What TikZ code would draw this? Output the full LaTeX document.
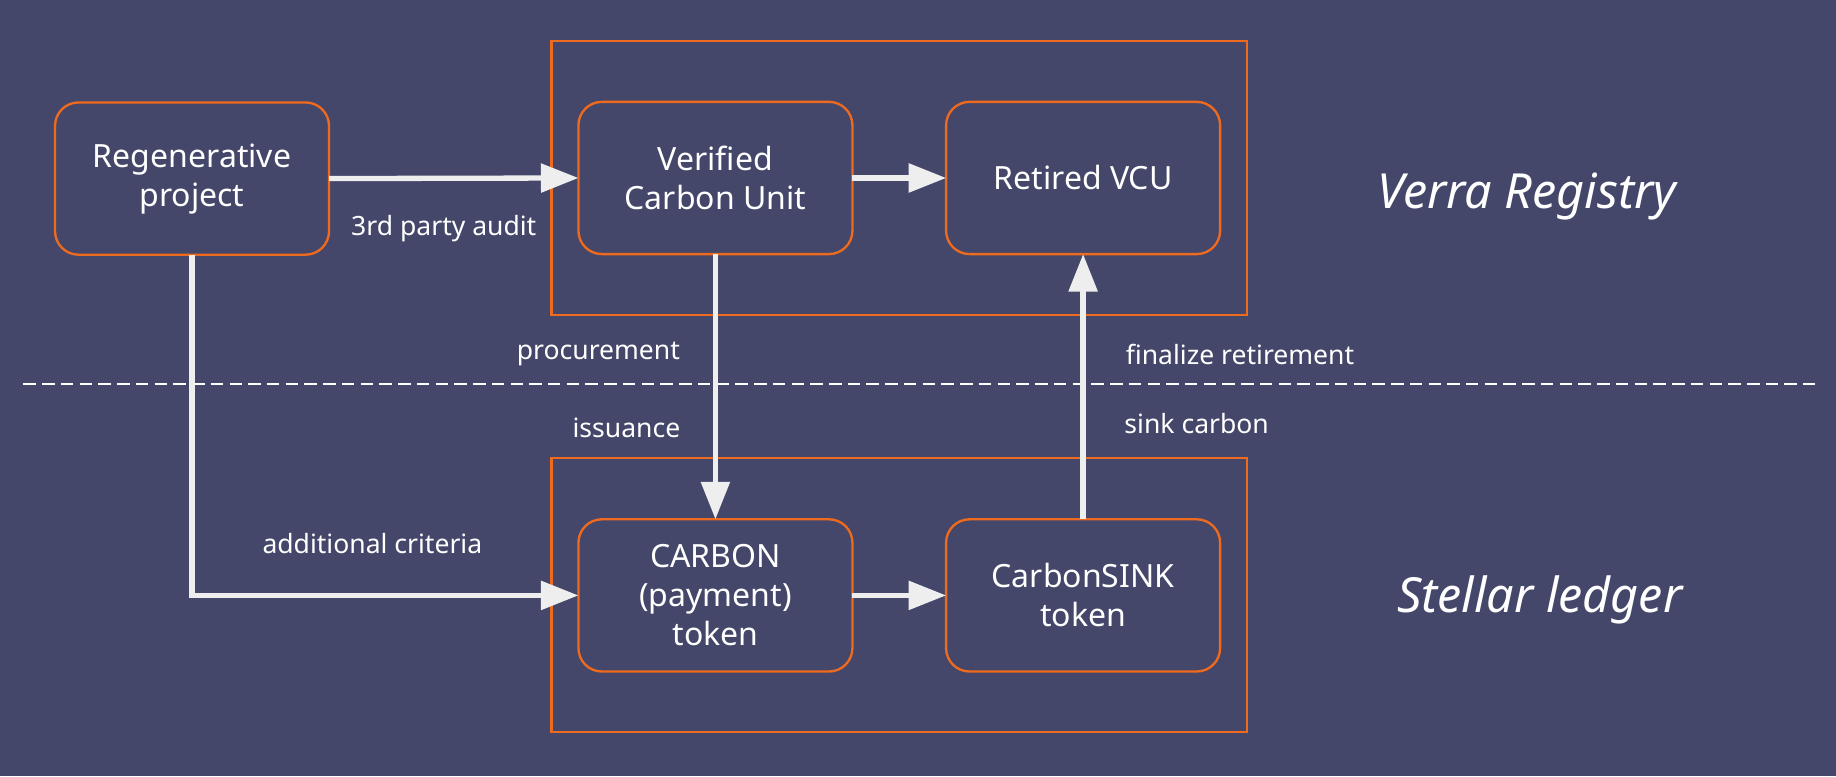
\documentclass[tikz,border=0pt]{standalone}
\usepackage{fontspec}
\setmainfont{Noto Sans}
\usetikzlibrary{arrows.meta}
\definecolor{bg}{HTML}{44476A}
\definecolor{org}{HTML}{EE6A1E}
\definecolor{arr}{HTML}{EEEEEE}
\tikzset{
  box/.style={draw=org, line width=1.5pt, rounded corners=15pt, minimum width=175.5pt, minimum height=97.5pt, text=white, font=\fontsize{20.5}{25}\selectfont, align=center, inner sep=0pt, outer sep=0pt},
  region/.style={draw=org, line width=1.5pt, minimum width=445.5pt, minimum height=175.5pt, inner sep=0pt, outer sep=0pt},
  conn/.style={draw=arr, line width=3.4pt, -{Triangle[length=24pt,width=18pt]}},
  lbl/.style={text=white, font=\fontsize{17}{20}\selectfont, inner sep=0pt},
  regtitle/.style={text=white, font=\fontsize{31}{36}\selectfont\itshape, inner sep=0pt},
  divider/.style={draw=white, line width=1.1pt, dash pattern=on 8pt off 4pt}
}
\begin{document}
\begin{tikzpicture}[x=0.75pt,y=-0.75pt]
\fill[bg] (0,0) rectangle (1568,663);
\useasboundingbox (0,0) rectangle (1568,663);
% regions
\node[region] (vreg) at (768,152) {};
\node[region] (sreg) at (768,508) {};
% boxes
\node[box] (regen) at (164,152.5) {Regenerative\\project};
\node[box] (vcu) at (611,152) {Verified\\Carbon Unit};
\node[box] (retired) at (925,152) {Retired VCU};
\node[box] (carbon) at (611,508.5) {CARBON\\(payment)\\token};
\node[box] (sink) at (925,508.5) {CarbonSINK\\token};
% divider
\coordinate (dl) at (20,328);
\coordinate (dr) at (1550,328);
\draw[divider] (dl) -- (dr);
% connectors
\draw[conn] (regen.east) -- (vcu.west);
\draw[conn] (vcu.east) -- (retired.west);
\draw[conn] (vcu.south) -- (carbon.north);
\draw[conn] (regen.south) |- (carbon.west);
\draw[conn] (carbon.east) -- (sink.west);
\draw[conn] (sink.north) -- (retired.south);
% labels
\node[lbl] (l1) at (379,195) {3rd party audit};
\node[lbl] (l2) at (511,302) {procurement};
\node[lbl] (l3) at (535,365) {issuance};
\node[lbl] (l4) at (1059,303) {finalize retirement};
\node[lbl] (l5) at (1022,362) {sink carbon};
\node[lbl] (l6) at (318,464) {additional criteria};
\node[regtitle] (t1) at (1304,168) {Verra Registry};
\node[regtitle] (t2) at (1315,512) {Stellar ledger};
\end{tikzpicture}
\end{document}
